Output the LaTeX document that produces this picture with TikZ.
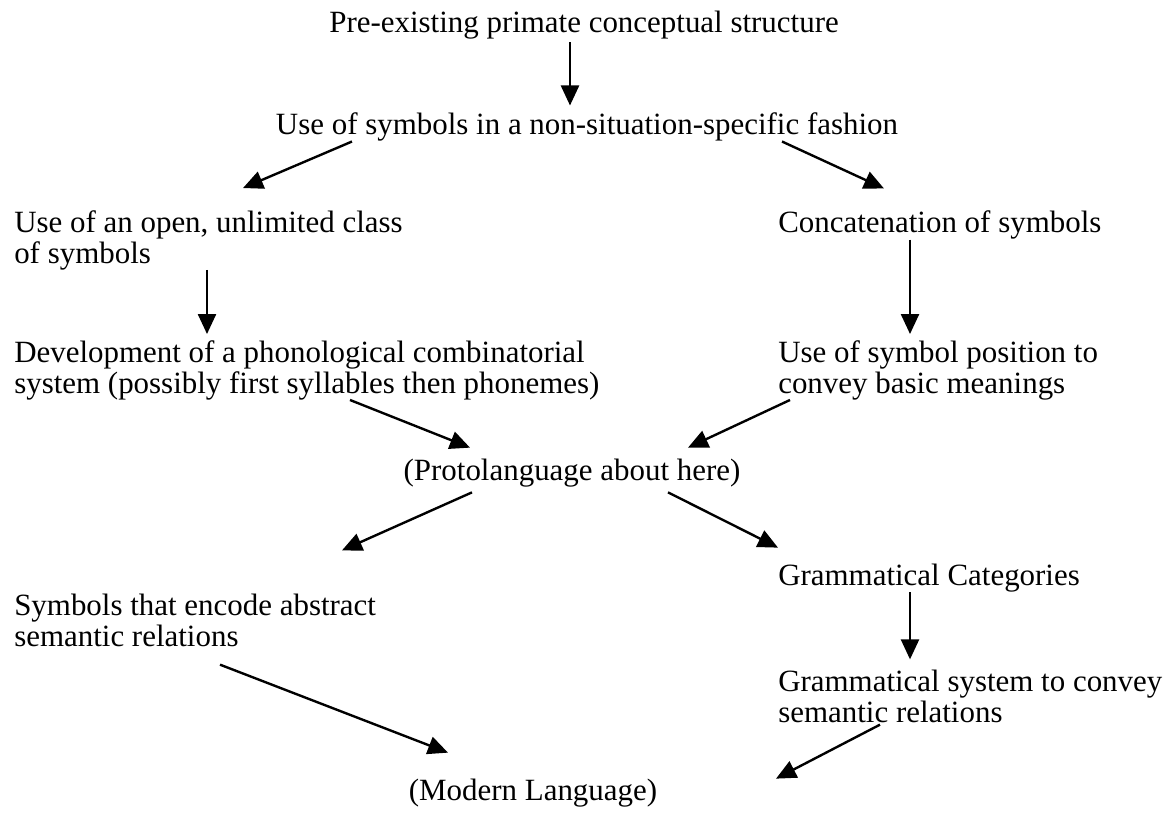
\documentclass[tikz,border=0pt]{standalone}
\usepackage{fontspec}
\setmainfont{Liberation Serif}
\usepackage{tikz}
\usetikzlibrary{arrows.meta,calc}

\tikzset{
  txt/.style={inner sep=0pt, align=left, font=\fontsize{22}{22}\selectfont},
  arr/.style={line width=1.7pt, -{Triangle[length=0.5cm,width=0.45cm]}}
}

\begin{document}
\begin{tikzpicture}[x=0.025cm,y=-0.025cm]
\newcommand{\xl}{14}
\newcommand{\xr}{778}
\useasboundingbox (0,0) rectangle (1169,815);

\node[txt] (pre) at (584,25) {Pre-existing primate conceptual structure};
\node[txt] (use) at (587,127) {Use of symbols in a non-situation-specific fashion};
\node[txt,anchor=west] (open) at (\xl,240) {Use of an open, unlimited class\\of symbols};
\node[txt,anchor=west] (concat) at (\xr,225) {Concatenation of symbols};
\node[txt,anchor=west] (phon) at (\xl,370) {Development of a phonological combinatorial\\system (possibly first syllables then phonemes)};
\node[txt,anchor=west] (pos) at (\xr,370) {Use of symbol position to\\convey basic meanings};
\node[txt] (proto) at (572,473) {(Protolanguage about here)};
\node[txt,anchor=west] (gcat) at (\xr,578) {Grammatical Categories};
\node[txt,anchor=west] (enc) at (\xl,620) {Symbols that encode abstract\\semantic relations};
\node[txt,anchor=west] (gsys) at (\xr,696) {Grammatical system to convey\\semantic relations};
\node[txt] (modern) at (533,793) {(Modern Language)};

% top part
\draw[arr] ($(pre.south -| 570,0)+(0,3)$) -- ($(use.north -| 570,0)+(0,-7)$);
\draw[arr] ($(use.south -| 352,0)+(0,0)$) -- ($(open.north -| 243,0)+(0,-22)$);
\draw[arr] ($(use.south -| 782,0)+(0,0)$) -- ($(concat.north -| 884,0)+(0,-22)$);
\draw[arr] ($(open.south -| 207,0)+(0,0)$) -- ($(phon.north -| 207,0)+(0,-6)$);
\draw[arr] ($(concat.south -| 910,0)+(0,0)$) -- ($(pos.north -| 910,0)+(0,-6)$);
% into the protolanguage
\draw[arr] ($(phon.south -| 350,0)+(0,0)$) -- ($(proto.north -| 470,0)+(0,-11)$);
\draw[arr] ($(pos.south -| 790,0)+(0,0)$) -- ($(proto.north -| 688,0)+(0,-11)$);
% out of it
\draw[arr] ($(proto.south -| 472,0)+(0,5)$) -- ($(enc.north -| 342,0)+(0,-43)$);
\draw[arr] ($(proto.south -| 668,0)+(0,5)$) -- ($(gcat.north -| 778,0)+(0,-16)$);
\draw[arr] ($(gcat.south -| 910,0)+(0,0)$) -- ($(gsys.north -| 910,0)+(0,-10)$);
% into modern language
\draw[arr] ($(enc.south -| 220,0)+(0,18)$) -- ($(modern.north -| 448,0)+(0,-26)$);
\draw[arr] ($(gsys.south -| 880,0)+(0,2)$) -- ($(modern.north -| 776,0)+(0,0)$);
\end{tikzpicture}
\end{document}
